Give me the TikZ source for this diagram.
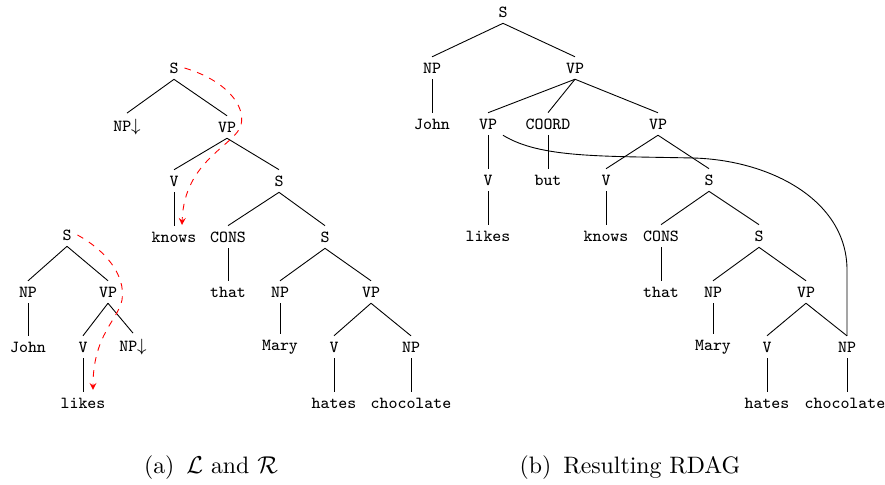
\documentclass[tikz,border=0pt]{standalone}
\usepackage{amsmath}
\usepackage{tikz}
\usetikzlibrary{arrows,calc}

\tikzset{
  cat/.style={font=\fontsize{7.6}{9}\selectfont\ttfamily, inner sep=2.5pt},
  adj/.style={draw=red, dashed, -stealth},
  caption/.style={font=\fontsize{10.7}{13}\selectfont}
}

\begin{document}
\begin{tikzpicture}[x=0.45pt, y=-0.45pt]
\useasboundingbox (0,0) rectangle (885,485);

% (a) elementary tree for likes
\node[cat] at (67,235) (sL) {S};
\node[cat] at (28,292) (npL) {NP};
\node[cat] at (108,292) (vpL) {VP};
\node[cat] at (28,347) (johnL) {John};
\node[cat] at (83,347) (vL) {V};
\node[cat] at (133,347) (npSubL) {NP$\downarrow$};
\node[cat] at (83,403) (likesL) {likes};

\draw (sL.south) -- (npL.north);
\draw (sL.south) -- (vpL.north);
\draw (npL.south) -- (johnL.north);
\draw (vpL.south) -- (vL.north);
\draw (vpL.south) -- (npSubL.north);
\draw (vL.south) -- (likesL.north);

\draw[adj] (sL.east) .. controls (105,250) and (126,275) .. (122,300)
  .. controls (118,320) and (93,335) .. (93,390);

% (a) elementary tree for knows
\node[cat] at (174,68) (sR) {S};
\node[cat] at (127,127) (npSubR) {NP$\downarrow$};
\node[cat] at (227,127) (vpR) {VP};
\node[cat] at (174,181) (vR) {V};
\node[cat] at (279,181) (sR2) {S};
\node[cat] at (174,237) (knowsR) {knows};
\node[cat] at (228,237) (consR) {CONS};
\node[cat] at (325,237) (sR3) {S};
\node[cat] at (228,292) (thatR) {that};
\node[cat] at (280,292) (npR) {NP};
\node[cat] at (371,292) (vpR2) {VP};
\node[cat] at (280,347) (maryR) {Mary};
\node[cat] at (334,347) (vR2) {V};
\node[cat] at (411,347) (npR2) {NP};
\node[cat] at (334,403) (hatesR) {hates};
\node[cat] at (411,403) (chocR) {chocolate};

\draw (sR.south) -- (npSubR.north);
\draw (sR.south) -- (vpR.north);
\draw (vpR.south) -- (vR.north);
\draw (vpR.south) -- (sR2.north);
\draw (vR.south) -- (knowsR.north);
\draw (sR2.south) -- (consR.north);
\draw (sR2.south) -- (sR3.north);
\draw (consR.south) -- (thatR.north);
\draw (sR3.south) -- (npR.north);
\draw (sR3.south) -- (vpR2.north);
\draw (npR.south) -- (maryR.north);
\draw (vpR2.south) -- (vR2.north);
\draw (vpR2.south) -- (npR2.north);
\draw (vR2.south) -- (hatesR.north);
\draw (npR2.south) -- (chocR.north);

\draw[adj] (sR.east) .. controls (225,80) and (246,105) .. (241,125)
  .. controls (236,145) and (184,160) .. (182,225);

% (b) resulting RDAG
\node[cat] at (503,12) (s) {S};
\node[cat] at (432,68) (np) {NP};
\node[cat] at (575,68) (vp) {VP};
\node[cat] at (432,124) (john) {John};
\node[cat] at (488,124) (vpA) {VP};
\node[cat] at (548,124) (coord) {COORD};
\node[cat] at (658,124) (vpB) {VP};
\node[cat] at (488,180) (vA) {V};
\node[cat] at (548,180) (but) {but};
\node[cat] at (606,180) (vB) {V};
\node[cat] at (709,180) (s2) {S};
\node[cat] at (488,236) (likes) {likes};
\node[cat] at (606,236) (knows) {knows};
\node[cat] at (661,236) (cons) {CONS};
\node[cat] at (759,236) (s3) {S};
\node[cat] at (661,292) (that) {that};
\node[cat] at (713,292) (np2) {NP};
\node[cat] at (806,292) (vp2) {VP};
\node[cat] at (713,347) (mary) {Mary};
\node[cat] at (767,347) (v2) {V};
\node[cat] at (847,347) (np3) {NP};
\node[cat] at (767,403) (hates) {hates};
\node[cat] at (845,403) (choc) {chocolate};

\draw (s.south) -- (np.north);
\draw (s.south) -- (vp.north);
\draw (np.south) -- (john.north);
\draw (vp.south) -- (vpA.north);
\draw (vp.south) -- (coord.north);
\draw (vp.south) -- (vpB.north);
\draw (vpA.south) -- (vA.north);
\draw (coord.south) -- (but.north);
\draw (vpB.south) -- (vB.north);
\draw (vpB.south) -- (s2.north);
\draw (vA.south) -- (likes.north);
\draw (vB.south) -- (knows.north);
\draw (s2.south) -- (cons.north);
\draw (s2.south) -- (s3.north);
\draw (cons.south) -- (that.north);
\draw (s3.south) -- (np2.north);
\draw (s3.south) -- (vp2.north);
\draw (np2.south) -- (mary.north);
\draw (vp2.south) -- (v2.north);
\draw (vp2.south) -- (np3.north);
\draw (v2.south) -- (hates.north);
\draw (np3.south) -- (np3.south |- choc.north);

\draw (vpA.south east) .. controls (540,158) and (600,156) .. (693,158)
  .. controls (770,160) and (847,200) .. (847,270) -- (np3.north);

% captions
\node[caption] at (211,468) (capA) {(a)\enspace$\mathcal{L}$ and $\mathcal{R}$};
\node[caption] at (630,468) (capB) {(b)\enspace Resulting RDAG};

\end{tikzpicture}
\end{document}
